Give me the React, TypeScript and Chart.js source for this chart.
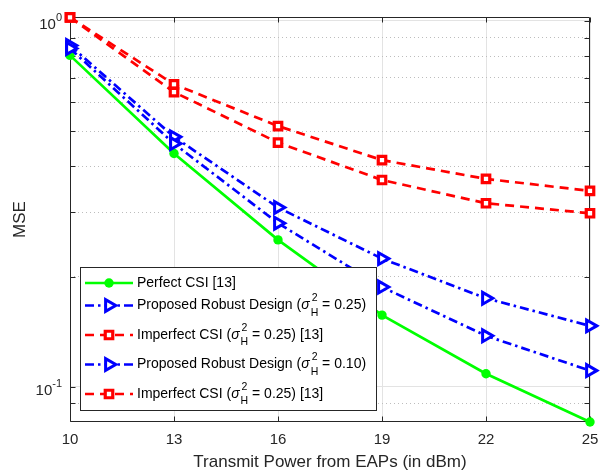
import React, { useEffect, useRef } from 'react';
import { Chart, registerables } from 'chart.js';

Chart.register(...registerables);

// ---------- data ----------
const powers = [10, 13, 16, 19, 22, 25];
const perfectCSI = [0.805, 0.434, 0.252, 0.157, 0.1085, 0.0801];
const robust025 = [0.857, 0.482, 0.309, 0.224, 0.1745, 0.1467];
const imperfectA = [1.023, 0.671, 0.516, 0.4165, 0.37, 0.343];
const robust010 = [0.841, 0.462, 0.28, 0.1873, 0.1378, 0.1107];
const imperfectB = [1.023, 0.639, 0.465, 0.3674, 0.3174, 0.298];

const xTickValues = [10, 13, 16, 19, 22, 25];
const yTickValues = [0.09, 0.1, 0.2, 0.3, 0.4, 0.5, 0.6, 0.7, 0.8, 0.9, 1];
const yMajorTicks = [0.1, 1];
const yMajorBase = ['10', '10'];
const yMajorExp = ['-1', '0'];

const seriesNames = [
  'Perfect CSI [13]',
  'Proposed Robust Design (σH2 = 0.25)',
  'Imperfect CSI (σH2 = 0.25) [13]',
  'Proposed Robust Design (σH2 = 0.10)',
  'Imperfect CSI (σH2 = 0.25) [13]',
];
const legendPre = ['Perfect CSI [13]', 'Proposed Robust Design (', 'Imperfect CSI (', 'Proposed Robust Design (', 'Imperfect CSI ('];
const legendPost = ['', ' = 0.25)', ' = 0.25) [13]', ' = 0.10)', ' = 0.25) [13]'];
const legendHasSigma = [false, true, true, true, true];

const FONT = '"Liberation Sans", Arial, Helvetica, sans-serif';
const AXIS_COLOR = '#262626';

const isMajor = (v: number) => yMajorTicks.some((m) => Math.abs(m - v) < 1e-9);

function drawMarker(ctx: CanvasRenderingContext2D, ds: any, x: number, y: number) {
  const r = ds.pointRadius;
  ctx.save();
  ctx.setLineDash([]);
  ctx.lineWidth = ds.pointBorderWidth;
  ctx.strokeStyle = ds.pointBorderColor;
  ctx.fillStyle = ds.pointBackgroundColor;
  ctx.beginPath();
  if (ds.pointStyle === 'circle') {
    ctx.arc(x, y, r, 0, Math.PI * 2);
  } else if (ds.pointStyle === 'rect') {
    const h = r * Math.SQRT1_2;
    ctx.rect(x - h, y - h, 2 * h, 2 * h);
  } else if (ds.pointStyle === 'triangle') {
    let rad = ((ds.pointRotation || 0) * Math.PI) / 180;
    ctx.moveTo(x + Math.sin(rad) * r, y - Math.cos(rad) * r);
    rad += (2 * Math.PI) / 3;
    ctx.lineTo(x + Math.sin(rad) * r, y - Math.cos(rad) * r);
    rad += (2 * Math.PI) / 3;
    ctx.lineTo(x + Math.sin(rad) * r, y - Math.cos(rad) * r);
    ctx.closePath();
  }
  ctx.fill();
  if (ds.pointBorderWidth > 0) ctx.stroke();
  ctx.restore();
}

const framePlugin = {
  id: 'frame',
  beforeDatasetsDraw(chart: any) {
    const { ctx, chartArea } = chart;
    const { left, right, top, bottom } = chartArea;
    const xs = chart.scales.x;
    const ys = chart.scales.y;
    ctx.save();
    ctx.strokeStyle = AXIS_COLOR;
    ctx.lineWidth = 1;
    ctx.setLineDash([]);
    ctx.beginPath();
    const L = Math.round(left) + 0.5;
    const R = Math.round(right) - 0.5;
    const T = Math.round(top) + 0.5;
    const B = Math.round(bottom) - 0.5;
    ctx.rect(L, T, R - L, B - T);
    const tl = 5;
    xTickValues.forEach((v) => {
      const px = Math.round(xs.getPixelForValue(v)) + 0.5;
      ctx.moveTo(px, B);
      ctx.lineTo(px, B - tl);
      ctx.moveTo(px, T);
      ctx.lineTo(px, T + tl);
    });
    yTickValues.forEach((v) => {
      const py = Math.round(ys.getPixelForValue(v)) + 0.5;
      ctx.moveTo(L, py);
      ctx.lineTo(L + tl, py);
      ctx.moveTo(R, py);
      ctx.lineTo(R - tl, py);
    });
    ctx.stroke();

    // y tick labels with real superscript exponents
    ctx.fillStyle = AXIS_COLOR;
    ctx.textBaseline = 'middle';
    yMajorTicks.forEach((v, k) => {
      const py = ys.getPixelForValue(v);
      const rightEdge = left - 8;
      ctx.font = `11px ${FONT}`;
      ctx.textAlign = 'right';
      const ew = ctx.measureText(yMajorExp[k]).width;
      ctx.fillText(yMajorExp[k], rightEdge, py - 2.5);
      ctx.font = `15px ${FONT}`;
      ctx.fillText(yMajorBase[k], rightEdge - ew, py + 4);
    });
    ctx.restore();
  },
};

const legendPlugin = {
  id: 'matlabLegend',
  afterDatasetsDraw(chart: any) {
    const ctx: CanvasRenderingContext2D = chart.ctx;
    const boxL = 80.5;
    const boxT = 267.5;
    const boxW = 296;
    const boxH = 143;
    ctx.save();
    ctx.fillStyle = '#ffffff';
    ctx.fillRect(boxL, boxT, boxW, boxH);
    ctx.strokeStyle = AXIS_COLOR;
    ctx.lineWidth = 1;
    ctx.setLineDash([]);
    ctx.strokeRect(boxL, boxT, boxW, boxH);

    let yc = boxT + 15.5;
    chart.data.datasets.forEach((ds: any, i: number) => {
      if (i > 0) yc += legendHasSigma[i - 1] ? 29.5 : 22.5;
      // sample line
      ctx.save();
      ctx.strokeStyle = ds.borderColor;
      ctx.lineWidth = ds.borderWidth;
      ctx.setLineDash(ds.borderDash || []);
      ctx.beginPath();
      ctx.moveTo(85, yc);
      ctx.lineTo(133, yc);
      ctx.stroke();
      ctx.restore();
      drawMarker(ctx, ds, 109, yc);

      // text
      ctx.fillStyle = '#000000';
      ctx.textBaseline = 'middle';
      ctx.textAlign = 'left';
      let x = 137;
      ctx.font = `14px ${FONT}`;
      ctx.fillText(legendPre[i], x, yc);
      x += ctx.measureText(legendPre[i]).width;
      if (legendHasSigma[i]) {
        ctx.font = `italic 14px ${FONT}`;
        ctx.fillText('σ', x, yc);
        x += ctx.measureText('σ').width + 1;
        ctx.font = `10.5px ${FONT}`;
        ctx.fillText('2', x + 1, yc - 7);
        ctx.fillText('H', x, yc + 7.5);
        x += Math.max(ctx.measureText('2').width + 1, ctx.measureText('H').width);
        ctx.font = `14px ${FONT}`;
        ctx.fillText(legendPost[i], x, yc);
      }
    });
    ctx.restore();
  },
};

export default function App() {
  const canvasRef = useRef<HTMLCanvasElement | null>(null);

  useEffect(() => {
    document.body.style.margin = '0';
    const canvas = canvasRef.current;
    if (!canvas) return;

    const mk = (
      idx: number,
      data: number[],
      color: string,
      dash: number[],
      pointStyle: string,
      radius: number,
      fill: string,
      pbw: number,
      rotation = 0
    ) => ({
      label: seriesNames[idx],
      data: powers.map((p, k) => ({ x: p, y: data[k] })),
      borderColor: color,
      backgroundColor: color,
      borderWidth: 2.7,
      borderDash: dash,
      pointStyle,
      pointRadius: radius,
      pointRotation: rotation,
      pointBackgroundColor: fill,
      pointBorderColor: color,
      pointBorderWidth: pbw,
      pointHoverRadius: radius,
      tension: 0,
      clip: false,
      order: 5 - idx,
    });

    const chart = new Chart(canvas, {
      type: 'line',
      data: {
        datasets: [
          mk(0, perfectCSI, '#00ff00', [], 'circle', 4.7, '#00ff00', 0),
          mk(1, robust025, '#0000ff', [9, 4, 2.5, 4], 'triangle', 6.8, '#ffffff', 3, 90),
          mk(2, imperfectA, '#ff0000', [9, 6], 'rect', 5.3, '#ffffff', 3.2),
          mk(3, robust010, '#0000ff', [9, 4, 2.5, 4], 'triangle', 6.8, '#ffffff', 3, 90),
          mk(4, imperfectB, '#ff0000', [9, 6], 'rect', 5.3, '#ffffff', 3.2),
        ] as any,
      },
      options: {
        responsive: false,
        animation: false,
        layout: { padding: { left: 0, right: 18, top: 14, bottom: 0 } },
        plugins: {
          legend: { display: false },
          tooltip: { enabled: false },
        },
        scales: {
          x: {
            type: 'linear',
            min: 10,
            max: 25,
            afterBuildTicks: (s: any) => {
              s.ticks = xTickValues.map((v) => ({ value: v }));
            },
            afterFit: (s: any) => {
              s.height = 50;
            },
            grid: { color: '#e3e3e3', lineWidth: 1, drawTicks: false },
            border: { display: false },
            ticks: {
              font: { family: FONT, size: 15 },
              color: AXIS_COLOR,
              padding: 9,
              maxRotation: 0,
              autoSkip: false,
              callback: (v: any) => String(v),
            },
            title: {
              display: true,
              text: 'Transmit Power from EAPs (in dBm)',
              font: { family: FONT, size: 17, lineHeight: 1.1 },
              color: AXIS_COLOR,
              padding: { top: 0, bottom: 0 },
            },
          },
          y: {
            type: 'logarithmic',
            min: 0.0801,
            max: 1.025,
            afterBuildTicks: (s: any) => {
              s.ticks = yTickValues.map((v) => ({ value: v, major: isMajor(v) }));
            },
            afterFit: (s: any) => {
              s.width = 70;
            },
            grid: {
              color: (c: any) => (c.tick && isMajor(c.tick.value) ? '#e3e3e3' : '#bdbdbd'),
              lineWidth: 1,
              drawTicks: false,
            },
            border: {
              display: false,
              dash: (c: any) => (c.tick && isMajor(c.tick.value) ? [] : [1, 3]),
            } as any,
            ticks: {
              font: { family: FONT, size: 15 },
              color: AXIS_COLOR,
              padding: 8,
              autoSkip: false,
              callback: () => '',
            },
            title: {
              display: true,
              text: 'MSE',
              font: { family: FONT, size: 17 },
              color: AXIS_COLOR,
              padding: { top: 10, bottom: 0 },
            },
          },
        },
      } as any,
      plugins: [framePlugin, legendPlugin],
    });

    return () => chart.destroy();
  }, []);

  return (
    <div style={{ width: 608, height: 472, background: '#ffffff' }}>
      <canvas ref={canvasRef} width={608} height={472} style={{ display: 'block' }} />
    </div>
  );
}
